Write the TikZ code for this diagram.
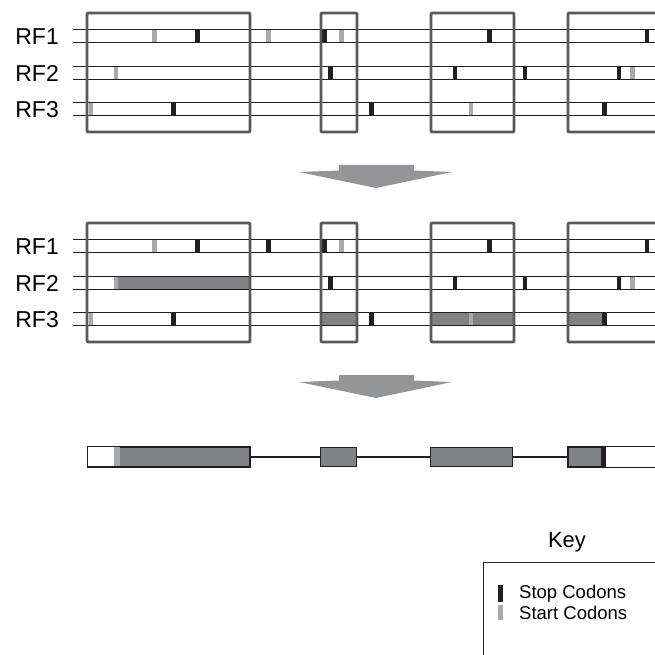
\documentclass[tikz,border=0pt]{standalone}
\usepackage{fontspec}
\setmainfont{Liberation Sans}
\definecolor{stopc}{HTML}{231F20}
\definecolor{startc}{HTML}{A7A9AC}
\definecolor{exonc}{HTML}{808285}
\definecolor{framec}{HTML}{58595B}
\definecolor{arrowc}{HTML}{939598}
\newcommand{\mkr}[4]{\fill[#1] (#2,#4) rectangle (#3,{#4+13.3});}
\begin{document}
\begin{tikzpicture}[x=1pt,y=-1pt,
  lane/.style={draw=stopc,line width=0.9pt},
  framebox/.style={draw=framec,line width=2.9pt,line join=round,rounded corners=1pt},
  stopmark/.style={fill=stopc},
  startmark/.style={fill=startc},
  orf/.style={fill=exonc},
  rflabel/.style={font=\fontsize{23}{23}\selectfont,anchor=east,inner sep=0pt},
  exon/.style={draw=stopc,line width=1.4pt,fill=exonc,inner sep=0pt,anchor=north west,minimum height=19.3pt},
  intron/.style={draw=stopc,line width=1.3pt},
  bigarrow/.style={fill=arrowc},
  keytext/.style={font=\fontsize{18.5}{18.5}\selectfont,anchor=west,inner sep=0pt}]
\useasboundingbox (0,0) rectangle (655,655);
\clip (0,0) rectangle (655,655);

% ---------- panel 1 ----------
\begin{scope}
  \node[rflabel] (a1) at (59,37) {RF1};
  \node[rflabel] (a2) at (59,73.5) {RF2};
  \node[rflabel] (a3) at (59,110) {RF3};
  % RF1 markers
  \mkr{startmark}{152}{156.5}{29.5}
  \mkr{stopmark}{195}{199.5}{29.5}
  \mkr{startmark}{266}{270.5}{29.5}
  \mkr{stopmark}{322}{327}{29.5}
  \mkr{startmark}{339}{344}{29.5}
  \mkr{stopmark}{486.5}{491.5}{29.5}
  \mkr{stopmark}{644.5}{649}{29.5}
  % RF2 markers
  \mkr{startmark}{113.5}{118}{66}
  \mkr{stopmark}{328}{332.5}{66}
  \mkr{stopmark}{452.5}{457}{66}
  \mkr{stopmark}{522.5}{527}{66}
  \mkr{stopmark}{616.5}{621}{66}
  \mkr{startmark}{629.5}{634.5}{66}
  % RF3 markers
  \mkr{startmark}{89}{93}{102.5}
  \mkr{stopmark}{171}{175.5}{102.5}
  \mkr{stopmark}{369}{373.5}{102.5}
  \mkr{startmark}{468.5}{473}{102.5}
  \mkr{stopmark}{602}{606.5}{102.5}
  % lanes
  \foreach \yy in {29.5,42.8,66,79.3,102.5,115.8}
    \draw[lane] (73,\yy) -- (660,\yy);
  % frames
  \draw[framebox] (87,13) rectangle (250,132);
  \draw[framebox] (321,13) rectangle (357,132);
  \draw[framebox] (431,13) rectangle (514,132);
  \draw[framebox] (568,13) rectangle (690,132);
\end{scope}

% ---------- arrow 1 ----------
\fill[bigarrow] (339,165) -- (414,165) -- (414,170.5) -- (452,172) -- (376,188) -- (299,172) -- (339,170.5) -- cycle;

% ---------- panel 2 ----------
\begin{scope}[shift={(0,210)}]
  \node[rflabel] (b1) at (59,37) {RF1};
  \node[rflabel] (b2) at (59,73.5) {RF2};
  \node[rflabel] (b3) at (59,110) {RF3};
  % open reading frames
  \mkr{orf}{118}{249}{66}
  \mkr{orf}{320}{357}{102.5}
  \mkr{orf}{431}{514}{102.5}
  \mkr{orf}{568}{602}{102.5}
  % RF1 markers
  \mkr{startmark}{152}{156.5}{29.5}
  \mkr{stopmark}{195}{199.5}{29.5}
  \mkr{stopmark}{266}{270.5}{29.5}
  \mkr{stopmark}{322}{327}{29.5}
  \mkr{startmark}{339}{344}{29.5}
  \mkr{stopmark}{486.5}{491.5}{29.5}
  \mkr{stopmark}{644.5}{649}{29.5}
  % RF2 markers
  \mkr{startmark}{113.5}{118}{66}
  \mkr{stopmark}{328}{332.5}{66}
  \mkr{stopmark}{452.5}{457}{66}
  \mkr{stopmark}{522.5}{527}{66}
  \mkr{stopmark}{616.5}{621}{66}
  \mkr{startmark}{629.5}{634.5}{66}
  % RF3 markers
  \mkr{startmark}{89}{93}{102.5}
  \mkr{stopmark}{171}{175.5}{102.5}
  \mkr{stopmark}{369}{373.5}{102.5}
  \mkr{startmark}{468.5}{473}{102.5}
  \mkr{stopmark}{602}{606.5}{102.5}
  % lanes
  \foreach \yy in {29.5,42.8,66,79.3,102.5,115.8}
    \draw[lane] (73,\yy) -- (660,\yy);
  % frames
  \draw[framebox] (87,13) rectangle (250,132);
  \draw[framebox] (321,13) rectangle (357,132);
  \draw[framebox] (431,13) rectangle (514,132);
  \draw[framebox] (568,13) rectangle (690,132);
\end{scope}

% ---------- arrow 2 ----------
\fill[bigarrow] (339,375) -- (414,375) -- (414,380.5) -- (452,382) -- (376,398) -- (299,382) -- (339,380.5) -- cycle;

% ---------- gene model ----------
\node[exon,minimum width=162pt] (e1) at (87.3,446.7) {};
\node[exon,minimum width=36pt] (e2) at (320,446.7) {};
\node[exon,minimum width=82pt] (e3) at (430,446.7) {};
\node[exon,minimum width=130pt] (e4) at (568,446.7) {};
\fill[white] (e1.north west) rectangle (114,466);
\fill[startc] (114,446.7) rectangle (120,466);
\fill[stopc] (601,446.7) rectangle (606,466);
\fill[white] (606,446.7) rectangle (e4.south east);
\foreach \e in {e1,e4}
  \draw[stopc,line width=1.4pt] (\e.north west) rectangle (\e.south east);
\draw[intron] (e1.east) -- (e2.west);
\draw[intron] (e2.east) -- (e3.west);
\draw[intron] (e3.east) -- (e4.west);

% ---------- key ----------
\node[font=\fontsize{22}{22}\selectfont,inner sep=0pt] (keyt) at (567,542) {Key};
\coordinate (kb) at (483,562);
\draw[stopc,line width=0.9pt] (483,700) -- (kb) -- (700,562);
\fill[stopc] (498,585) rectangle (502.5,602);
\fill[startc] (498,605) rectangle (502.5,620);
\node[keytext] (ks) at (519,594) {Stop Codons};
\node[keytext] (kt) at (519,613) {Start Codons};
\end{tikzpicture}
\end{document}
